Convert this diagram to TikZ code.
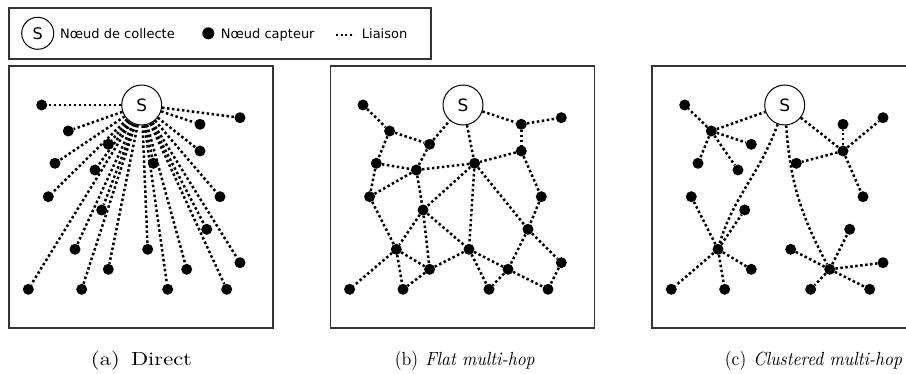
\documentclass[tikz,border=0pt]{standalone}
\usepackage{fontspec}
\newfontfamily\legfont{DejaVu Sans}
\begin{document}
\begin{tikzpicture}[x=1pt,y=-1pt,
  link/.style={line width=2.5pt, dash pattern=on 2.5pt off 2.5pt},
  sensor/.style={circle, fill=black, minimum size=11pt, inner sep=0pt},
  sink/.style={circle, draw=black, line width=1pt, fill=white, minimum size=40pt, inner sep=0pt, font=\legfont\fontsize{17}{17}\selectfont},
  frame/.style={draw=black!80, line width=1.2pt},
  legtext/.style={anchor=base west, inner sep=0pt, font=\legfont\fontsize{13}{13}\selectfont},
  capt/.style={anchor=base, inner sep=0pt}
]
\useasboundingbox (0,0) rectangle (906,374);

% ---------- legend ----------
\draw[frame] (9,8) rectangle (431,59);
\node[sink, minimum size=32pt, font=\legfont\fontsize{16}{16}\selectfont] (legS) at (37.7,33.3) {S};
\node[legtext] (legSt) at (60,38.3) {Nœud de collecte};
\node[sensor, minimum size=12pt] (legD) at (208.3,33.3) {};
\node[legtext] (legDt) at (220.7,38.3) {Nœud capteur};
\coordinate (legL1) at (336,35);
\coordinate (legL2) at (354,35);
\draw[line width=2pt, dash pattern=on 2pt off 2.5pt] (legL1) -- (legL2);
\node[legtext] (legLt) at (361.7,38.3) {Liaison};

% ---------- common layout macro ----------
\def\placenodes{%
  \node[sensor] (n1) at (41.7,105) {};
  \node[sensor] (n2) at (68.3,131) {};
  \node[sensor] (n3) at (108.3,144.3) {};
  \node[sensor] (n4) at (55,163.3) {};
  \node[sensor] (n5) at (95,170) {};
  \node[sensor] (n6) at (48.3,196.7) {};
  \node[sensor] (n7) at (101.7,210) {};
  \node[sensor] (n8) at (75,249.3) {};
  \node[sensor] (n9) at (108.3,269.3) {};
  \node[sensor] (n10) at (28.3,289.3) {};
  \node[sensor] (n11) at (81.7,289.3) {};
  \node[sensor] (n12) at (147.7,249.3) {};
  \node[sensor] (n13) at (153.3,163.3) {};
  \node[sensor] (n14) at (200,124.3) {};
  \node[sensor] (n15) at (240,117.7) {};
  \node[sensor] (n16) at (200,151) {};
  \node[sensor] (n17) at (220,196.7) {};
  \node[sensor] (n18) at (206.7,229.3) {};
  \node[sensor] (n19) at (240,262.7) {};
  \node[sensor] (n20) at (186.7,269.3) {};
  \node[sensor] (n21) at (167.7,289.3) {};
  \node[sensor] (n22) at (226.7,289.3) {};
  \node[sink] (S) at (141.7,105) {S};
}

% ---------- (a) Direct ----------
\begin{scope}[name prefix=a-]
  \draw[frame] (9,66) rectangle (273,328);
  \placenodes
  \foreach \i in {1,...,22} \draw[link] (S) -- (n\i);
  \node[capt] (capa) at (141.5,366) {\scalebox{2.25}[1.9]{(a)\hspace{0.5em}Direct}};
\end{scope}

% ---------- (b) Flat multi-hop ----------
\begin{scope}[name prefix=b-, xshift=321.3pt]
  \draw[frame] (9,66) rectangle (273.5,328);
  \placenodes
  \foreach \u/\v in {n1/n2,n2/n3,n3/S,n2/n4,n4/n5,n5/n3,n5/n13,S/n13,S/n14,n14/n15,
    n14/n16,n16/n13,n16/n17,n17/n18,n13/n18,n13/n12,n13/n7,n5/n7,n5/n6,n4/n6,
    n6/n8,n7/n8,n7/n9,n7/n12,n8/n10,n8/n11,n8/n9,n9/n11,n9/n12,n12/n20,
    n12/n21,n20/n21,n18/n20,n18/n19,n20/n22,n19/n22}
    \draw[link] (\u) -- (\v);
  \node[capt] (capb) at (143.5,366) {\scalebox{1.75}[1.9]{(b)\hspace{0.4em}\textit{Flat multi-hop}}};
\end{scope}

% ---------- (c) Clustered multi-hop ----------
\begin{scope}[name prefix=c-, xshift=643pt]
  \draw[frame] (263,66) -- (9,66) -- (9,328) -- (263,328);
  \placenodes
  \foreach \u/\v in {n2/S,n2/n1,n2/n3,n2/n4,n2/n5,
    S/n16,n16/n14,n16/n15,n16/n13,n16/n17,
    n8/n6,n8/n7,n8/n10,n8/n11,n8/n9,
    n20/n12,n20/n18,n20/n19,n20/n21,n20/n22}
    \draw[link] (\u) -- (\v);
  \draw[link] (S) to[out=-110,in=74] (n8);
  \draw[link] (S) to[out=-86,in=118] (n20);
  \node[capt] (capc) at (170.5,366) {\scalebox{1.75}[1.9]{(c)\hspace{0.4em}\textit{Clustered multi-hop}}};
\end{scope}
\end{tikzpicture}
\end{document}
